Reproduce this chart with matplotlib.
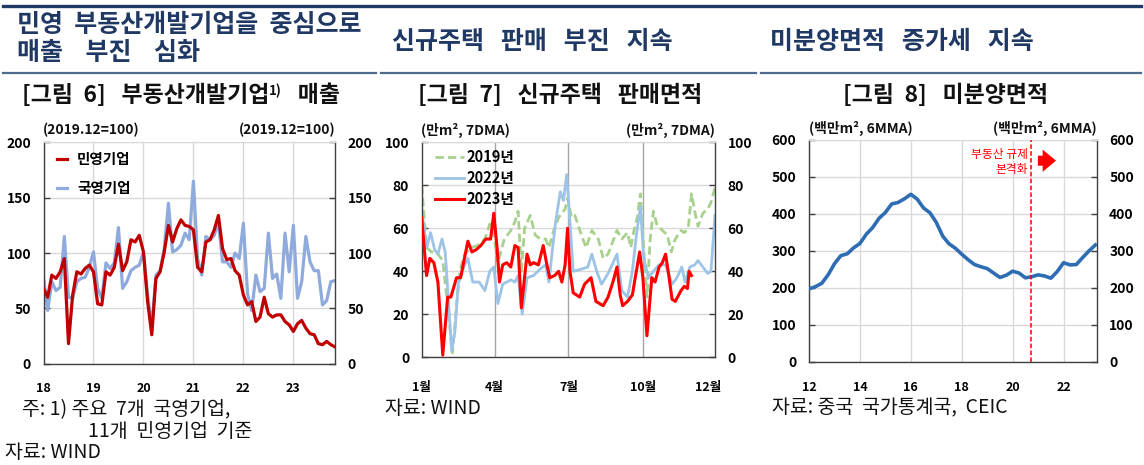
import matplotlib
matplotlib.use('Agg')
import matplotlib.pyplot as plt
from matplotlib.lines import Line2D
import numpy as np
import pandas as pd

plt.rcParams['font.family'] = ['Noto Sans CJK KR', 'DejaVu Sans']

# ---- [그림 6] 부동산개발기업 매출 (2019.12=100), monthly from 2018.01
sales_private = [68, 60, 80, 77, 83, 95, 18, 62, 83, 81, 86, 89,
                 83, 54, 53, 83, 80, 87, 108, 84, 92, 112, 110, 116,
                 101, 56, 26, 77, 83, 101, 125, 110, 122, 130, 125, 124,
                 121, 87, 83, 110, 112, 121, 134, 104, 94, 95, 84, 80,
                 62, 53, 56, 38, 42, 60, 45, 42, 44, 44, 38, 35,
                 29, 36, 39, 32, 27, 26, 18, 17, 20, 17, 15]
sales_state = [78, 48, 74, 66, 69, 115, 60, 59, 74, 77, 78, 87,
               101, 68, 59, 91, 86, 91, 123, 68, 74, 84, 87, 89,
               101, 62, 33, 80, 84, 104, 145, 101, 103, 107, 118, 112,
               165, 95, 80, 115, 112, 116, 128, 92, 92, 87, 100, 95,
               127, 63, 48, 80, 65, 68, 118, 77, 81, 59, 118, 83,
               125, 59, 74, 115, 92, 84, 84, 53, 57, 74, 75]
year_labels = ['18', '19', '20', '21', '22', '23']

# ---- [그림 7] 신규주택 판매면적 (만m2, 7DMA), x = day of year
days_2019 = [0, 6, 12, 18, 26, 32, 38, 43, 47, 53, 61, 69, 78, 84, 88, 94,
             102, 110, 115, 119, 123, 127, 134, 140, 146, 153, 157, 163, 169,
             177, 180, 185, 189, 197, 203, 210, 218, 224, 230, 237, 241, 247,
             254, 258, 262, 266, 270, 274, 278, 282, 286, 290, 297, 303, 308,
             313, 320, 324, 329, 333, 338, 341, 347, 353, 357, 362]
area_2019 = [80, 51, 49, 49, 45, 24, 2, 24, 40, 48, 51, 52, 55, 62, 59, 44,
             55, 59, 63, 68, 40, 60, 66, 57, 55, 55, 51, 59, 65,
             69, 74, 65, 66, 57, 51, 59, 55, 46, 48, 55, 59, 55,
             58, 51, 59, 65, 76, 51, 28, 55, 68, 62, 59, 57, 49,
             55, 59, 58, 60, 76, 66, 61, 67, 69, 72, 79]
days_2022 = [0, 6, 11, 16, 20, 25, 29, 32, 37, 41, 45, 53, 57, 63, 71, 78,
             84, 89, 94, 100, 110, 115, 119, 124, 130, 138, 146, 153, 157,
             161, 165, 171, 175, 179, 183, 187, 197, 205, 210, 216, 222, 230,
             235, 241, 247, 254, 260, 265, 270, 274, 280, 286, 293, 301, 309,
             315, 321, 325, 331, 337, 341, 347, 353, 357, 362]
area_2022 = [69, 51, 58, 50, 48, 55, 49, 32, 3, 12, 34, 43, 46, 35, 35, 31,
             40, 42, 25, 34, 36, 35, 38, 20, 37, 38, 41, 43, 35,
             49, 62, 77, 73, 85, 63, 40, 41, 42, 48, 40, 34, 39,
             43, 48, 31, 28, 40, 57, 70, 46, 37, 40, 43, 43, 34,
             37, 42, 35, 42, 43, 45, 42, 39, 40, 66]
days_2023 = [0, 6, 10, 15, 20, 26, 32, 36, 43, 48, 57, 62, 67, 73, 79, 85,
             89, 93, 96, 100, 105, 110, 115, 119, 123, 130, 134, 138, 144,
             150, 154, 158, 164, 169, 173, 177, 180, 183, 187, 195, 201, 209,
             215, 224, 230, 236, 241, 245, 248, 254, 260, 264, 269, 273, 278,
             284, 288, 293, 297, 301, 305, 309, 313, 320, 324, 328, 330, 333]
area_2023 = [65, 38, 46, 44, 35, 1, 28, 28, 37, 37, 54, 49, 50, 52, 55, 55,
             67, 51, 35, 43, 44, 42, 52, 51, 23, 48, 43, 44, 43,
             52, 44, 37, 38, 40, 35, 43, 60, 40, 30, 28, 34, 37,
             26, 24, 28, 35, 42, 29, 24, 26, 29, 38, 49, 37, 10,
             37, 35, 42, 44, 48, 38, 27, 26, 31, 33, 32, 40, 38]
month_ticks = [0, 90, 181, 273, 354]
month_labels = ['1월', '4월', '7월', '10월', '12월']

# ---- [그림 8] 미분양면적 (백만m2, 6MMA), quarterly from 2012.01
unsold_area = [197, 203, 212, 235, 265, 287, 292, 308, 320, 345, 363, 388,
               404, 427, 431, 441, 453, 440, 416, 403, 377, 340, 319, 307,
               291, 276, 263, 257, 252, 240, 228, 234, 245, 240, 227, 230,
               235, 232, 226, 244, 268, 262, 263, 282, 300, 316]
unsold_dates = pd.date_range('2012-01-01', periods=len(unsold_area), freq='3MS')
regulation_year = 2020.73

W, H = 1144, 465
NAVY = '#1F3864'


def box(x0, y0, x1, y1):
    return [x0 / W, 1 - y1 / H, (x1 - x0) / W, (y1 - y0) / H]


def fx(x):
    return x / W


def fy(y):
    return 1 - y / H


def style_axes(ax, vgrid_color, xpad):
    for side in ['left', 'right', 'bottom']:
        ax.spines[side].set_color('#404040')
        ax.spines[side].set_linewidth(1.0)
    ax.spines['top'].set_color('#D9D9D9')
    ax.yaxis.set_ticks_position('both')
    ax.tick_params(axis='y', direction='in', length=4, width=1, color='#404040',
                   labelleft=True, labelright=True, labelsize=10, pad=9)
    ax.tick_params(axis='x', length=0, labelsize=9, pad=xpad)
    ax.grid(axis='y', color='#D9D9D9', linewidth=1)
    ax.grid(axis='x', color=vgrid_color, linewidth=1)
    ax.set_axisbelow(True)
    for lab in ax.get_xticklabels() + ax.get_yticklabels():
        lab.set_fontweight('bold')
    for t in ax.yaxis.get_major_ticks():
        t.label2.set_fontweight('bold')


fig = plt.figure(figsize=(W / 100, H / 100), dpi=100)

# header lines
fig.add_artist(Line2D([fx(3), fx(1141)], [fy(6), fy(6)], color=NAVY, linewidth=2.4))
for x0, x1 in [(3, 376), (381, 756), (761, 1141)]:
    fig.add_artist(Line2D([fx(x0), fx(x1)], [fy(73.5), fy(73.5)], color='#4F6C8E', linewidth=1.6))

title_kw = dict(color=NAVY, fontsize=18, fontweight='bold', va='center', ha='left')
fig.text(fx(17), fy(25), '민영  부동산개발기업을  중심으로', **title_kw)
fig.text(fx(17), fy(53), '매출    부진    심화', **title_kw)
fig.text(fx(392), fy(42), '신규주택   판매   부진   지속', **title_kw)
fig.text(fx(770), fy(42), '미분양면적   증가세   지속', **title_kw)

sub_kw = dict(color='#111111', fontsize=16.5, fontweight='bold', va='bottom', ha='left')
t1 = fig.text(fx(22), fy(107), '[그림  6]   부동산개발기업', **sub_kw)
sup = fig.add_artist(plt.Annotation('1)', xy=(1.0, 1.0), xycoords=t1, va='top', ha='left',
                                    fontsize=9.5, fontweight='bold', color='#111111'))
fig.add_artist(plt.Annotation('   매출', xy=(1, 0), xycoords=(sup, t1), va='bottom', ha='left',
                              fontsize=16.5, fontweight='bold', color='#111111'))
fig.text(fx(418), fy(107), '[그림  7]   신규주택   판매면적', **sub_kw)
fig.text(fx(843), fy(107), '[그림  8]   미분양면적', **sub_kw)

# ---------------- panel 1
ax1 = fig.add_axes(box(43.5, 142.5, 335, 363.5))
months = np.arange(len(sales_private))
ax1.plot(months, sales_private, color='#C00000', linewidth=2.3, label='민영기업', zorder=3)
ax1.plot(months, sales_state, color='#8FAADC', linewidth=2.3, label='국영기업', zorder=2)
ax1.set_xlim(0, 70)
ax1.set_ylim(0, 200)
ax1.set_yticks([0, 50, 100, 150, 200])
ax1.set_xticks(np.arange(len(year_labels)) * 12)
ax1.set_xticklabels(year_labels)
style_axes(ax1, '#D9D9D9', 13)
ax1.legend(loc='upper left', bbox_to_anchor=(0.0, 1.02), frameon=False,
           handlelength=0.7, handletextpad=0.7, labelspacing=0.9,
           prop={'size': 10.5, 'weight': 'bold'})
unit_kw = dict(fontsize=10, fontweight='bold', va='center', color='#111111')
fig.text(fx(43), fy(130), '(2019.12=100)', ha='left', **unit_kw)
fig.text(fx(336), fy(130), '(2019.12=100)', ha='right', **unit_kw)

# ---------------- panel 2
ax2 = fig.add_axes(box(421.7, 142.3, 715, 357.3))
ax2.plot(days_2019, area_2019, color='#A9D18E', linewidth=2.0, linestyle=(0, (3, 1.5)), label='2019년', zorder=2)
ax2.plot(days_2022, area_2022, color='#9DC3E6', linewidth=2.0, label='2022년', zorder=2)
ax2.plot(days_2023, area_2023, color='#FF0000', linewidth=2.2, label='2023년', zorder=3)
ax2.set_xlim(0, 362)
ax2.set_ylim(0, 100)
ax2.set_yticks([0, 20, 40, 60, 80, 100])
ax2.set_xticks(month_ticks)
ax2.set_xticklabels(month_labels)
style_axes(ax2, '#A6A6A6', 17)
ax2.grid(axis='x', visible=False)
for d in month_ticks[1:4]:
    ax2.axvline(d, color='#A6A6A6', linewidth=1, zorder=1)
ax2.legend(loc='upper left', bbox_to_anchor=(0.0, 1.03), frameon=False,
           handlelength=2.0, handletextpad=0.2, labelspacing=0.35,
           prop={'size': 10.5, 'weight': 'bold'})
fig.text(fx(421), fy(130), '(만m², 7DMA)', ha='left', **unit_kw)
fig.text(fx(715), fy(130), '(만m², 7DMA)', ha='right', **unit_kw)

# ---------------- panel 3
ax3 = fig.add_axes(box(809, 140, 1096.7, 361.7))
t_unsold = unsold_dates.year + (unsold_dates.month - 1) / 12
ax3.plot(t_unsold, unsold_area, color='#2E6DB4', linewidth=2.6, zorder=3)
ax3.set_xlim(2012, 2023.3)
ax3.set_ylim(0, 600)
ax3.set_yticks(np.arange(0, 601, 100))
ax3.set_xticks([2012, 2014, 2016, 2018, 2020, 2022])
ax3.set_xticklabels(['12', '14', '16', '18', '20', '22'])
style_axes(ax3, '#D9D9D9', 14)
ax3.axvline(regulation_year, color='#FF0000', linewidth=1.1, linestyle=(0, (3, 1.5)), zorder=4)
ax3.text(regulation_year - 0.12, 560, '부동산 규제', color='#FF0000', fontsize=8.5,
         ha='right', va='center')
ax3.text(regulation_year - 0.12, 520, '본격화', color='#FF0000', fontsize=8.5,
         ha='right', va='center')
ax3.annotate('', xy=(regulation_year + 1.08, 544), xytext=(regulation_year + 0.15, 544),
             arrowprops=dict(arrowstyle='simple,head_width=1.0,head_length=0.6,tail_width=0.45',
                             color='#FF0000', lw=0, mutation_scale=16))
fig.text(fx(809), fy(128), '(백만m², 6MMA)', ha='left', **unit_kw)
fig.text(fx(1097), fy(128), '(백만m², 6MMA)', ha='right', **unit_kw)

# footnotes
note_kw = dict(fontsize=14, color='#111111', va='center', ha='left')
fig.text(fx(22), fy(410), '주: 1) 주요  7개  국영기업,', **note_kw)
fig.text(fx(88), fy(431), '11개  민영기업  기준', **note_kw)
fig.text(fx(5), fy(452), '자료: WIND', **note_kw)
fig.text(fx(385), fy(408), '자료: WIND', **note_kw)
fig.text(fx(772), fy(408), '자료: 중국  국가통계국,  CEIC', **note_kw)

fig.savefig('out.png', dpi=100)
